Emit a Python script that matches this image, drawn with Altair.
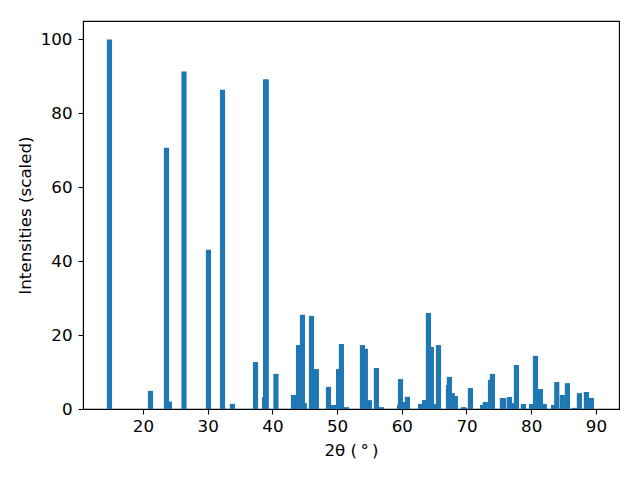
import altair as alt
import pandas as pd

two_theta = [14.82, 21.16, 23.63, 24.08, 26.34, 30.12, 32.29, 33.83, 37.39, 38.79,
             38.95, 39.05, 40.55, 43.26, 44.04, 44.65, 44.94, 46.04, 46.80, 48.67,
             49.43, 50.23, 50.67, 51.45, 53.92, 54.37, 54.99, 56.08, 56.84, 59.65,
             59.80, 60.33, 60.87, 62.90, 63.52, 64.12, 64.57, 65.30, 65.67, 67.22,
             67.36, 67.81, 68.28, 69.53, 69.67, 70.61, 72.48, 72.91, 73.71, 74.01,
             75.55, 75.75, 76.64, 77.10, 77.72, 78.80, 80.05, 80.66, 81.43, 82.03,
             83.45, 83.95, 84.81, 85.60, 86.68, 87.45, 88.53, 89.30]
intensity = [100.0, 4.9, 70.7, 2.0, 91.3, 43.1, 86.4, 1.4, 12.7, 3.2,
             89.2, 89.2, 9.5, 3.8, 17.3, 25.5, 1.6, 25.2, 10.8, 6.0,
             1.1, 10.8, 17.6, 0.5, 17.3, 16.3, 2.4, 11.1, 0.5, 1.1,
             8.1, 1.9, 3.3, 1.4, 2.4, 26.0, 16.8, 1.4, 17.3, 6.5,
             8.7, 4.3, 3.5, 0.5, 0.3, 5.7, 1.1, 1.9, 7.9, 9.5,
             3.0, 2.9, 3.25, 1.6, 11.9, 1.35, 1.35, 14.4, 5.4, 1.35,
             1.1, 7.3, 3.8, 7.0, 0.3, 4.3, 4.6, 3.0]

df = pd.DataFrame({"pos": two_theta, "val": intensity})

font = "DejaVu Sans"
fs = 16.7

chart = (
    alt.Chart(df)
    .transform_calculate(lo="datum.pos - 0.4", hi="datum.pos + 0.4")
    .mark_bar(color="#1f77b4", opacity=1)
    .encode(
        x=alt.X("lo:Q",
                scale=alt.Scale(domain=[10.73, 93.57], nice=False, zero=False),
                axis=alt.Axis(title="2θ (\u2009°\u2009)", values=[20, 30, 40, 50, 60, 70, 80, 90],
                              format="d", labelFont=font, titleFont=font,
                              labelPadding=4, titlePadding=8)),
        x2="hi:Q",
        y=alt.Y("val:Q",
                scale=alt.Scale(domain=[0, 105], nice=False),
                axis=alt.Axis(title="Intensities (scaled)", values=[0, 20, 40, 60, 80, 100],
                              labelFont=font, titleFont=font,
                              labelPadding=6, titlePadding=6)),
        y2=alt.datum(0),
    )
    .properties(width=536, height=388,
                autosize=alt.AutoSizeParams(type="none"),
                padding={"left": 75, "top": 13, "right": 13, "bottom": 55})
    .configure(font=font)
    .configure_view(stroke="black", strokeWidth=1.1)
    .configure_axis(
        grid=False,
        domainColor="black", domainWidth=1.1,
        tickColor="black", tickWidth=1.1, tickSize=5,
        labelFont=font, labelFontSize=fs, labelColor="black",
        titleFont=font, titleFontSize=fs, titleColor="black", titleFontWeight="normal",
    )
)

chart.save("out.html", embed_options={"renderer": "svg", "actions": False})
